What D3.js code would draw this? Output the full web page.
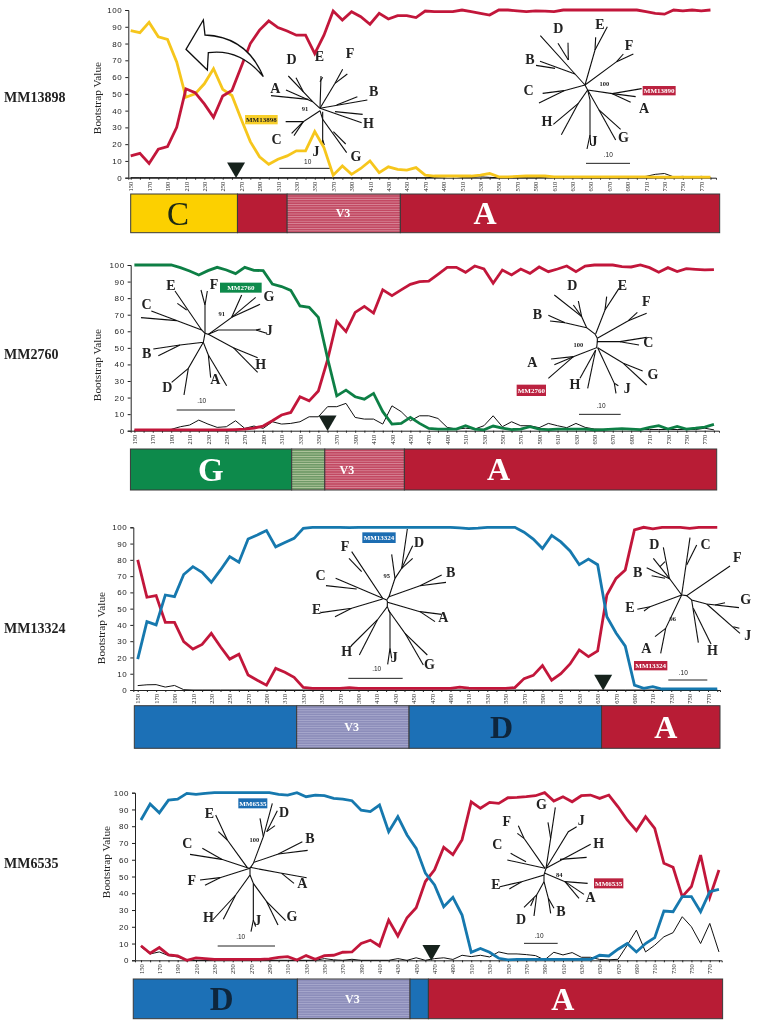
<!DOCTYPE html>
<html>
<head>
<meta charset="utf-8">
<script src="https://cdn.jsdelivr.net/npm/d3@7"></script>
<style>
    body { margin: 0; background: #fff; }
    svg { display: block; }
    .domain, .tick line { stroke: #222; }
</style>
</head>
<body>
<svg width="758" height="1022"></svg>
<script>
// Nucleotide position of every bootstrap window
var sites = d3.range(150, 790, 10);
var yTicks = d3.range(0, 110, 10);
var isolates = ['MM13898', 'MM2760', 'MM13324', 'MM6535'];

// Bootstrap values, one row per 100 positions (150, 250, 350 ...)
var mm13898Yellow = [
    87.7, 86.5, 92.6, 84, 82.5, 69, 48, 50, 56, 65,
    52.7, 49, 35, 21.5, 12.5, 8, 11, 13, 16, 16,
    27.5, 18, 1.5, 7, 2, 5.5, 10, 3, 6.5, 5,
    4.5, 6, 1.5, 1, 1, 1, 1, 1, 1.5, 2.5,
    .5, .5, .8, 1, 1, 1, .5, .5, .5, .5,
    .5, .5, .5, .5, .5, .5, .5, .3, .3, .3,
    .3, .3, .3, .3];
var mm13898Red = [
    13, 14.5, 8.5, 17, 18.5, 30, 53, 50.7, 44, 36,
    48.7, 52, 66, 80, 88, 93.5, 89.5, 87.5, 85, 85,
    74, 85, 99.4, 94, 99, 96, 91.5, 98, 94.6, 96.6,
    96.6, 95.5, 99.4, 99, 99, 99, 100, 99, 98, 97,
    100, 100, 99.5, 99, 99.5, 99.3, 99, 100, 100, 100,
    100, 100, 100, 100, 100, 100, 99, 98, 97.5, 100,
    99.5, 100, 99.5, 100];
var mm13898Black = [
    0, 0, 0, 0, 0, 0, 0, 0, 0, 0,
    0, 0, 0, 0, 0, 0, 0, 0, 0, 0,
    0, 0, 0, 0, 0, 0, 0, 0, 0, 0,
    0, 0, 0, .2, .5, 1, .3, .2, .5, .2,
    0, 0, 0, 0, 0, .3, .7, .5, .2, 0,
    0, 0, 0, 0, 0, 0, .8, 2, 2.5, .5,
    .8, .2, .8, .2];

var mm2760Green = [
    100, 100, 100, 100, 100, 98.4, 96.4, 94, 96.6, 98.6,
    97, 94.8, 98.6, 96.8, 96.6, 88.5, 87, 84.7, 75.3, 74.4,
    68.4, 43.7, 21, 24.5, 20.5, 19, 22.5, 11.5, 4, 4.4,
    8, 4.4, 1.4, 1, 1, 1, 3, 1, .5, 2.8,
    1.5, .7, 1, 2.4, 1, .7, 1, 1, 1, 1,
    .5, .7, 1, 1.2, 1, .7, 2, 3, 1, 2.6,
    1, 1.5, 2.2, 3.8];
var mm2760Red = [
    .5, .5, .5, .5, .5, .5, .5, .5, .5, .5,
    .5, .7, 1, 1.5, 2.8, 6, 9.5, 11, 20.5, 18,
    24, 42.7, 66, 59.8, 71.4, 75, 71, 85, 81.5, 85,
    88.3, 90, 90.3, 94.4, 98.6, 98.6, 95.6, 99.4, 97.6, 89,
    97, 94, 97.6, 95, 98.8, 96, 97.6, 99.4, 96, 99.4,
    100, 100, 100, 99, 98.8, 100, 98.4, 95.6, 98.4, 96,
    97.8, 97.4, 97, 97.2];
var mm2760Black = [
    .2, .2, .2, .3, .8, 2.4, 3.4, 6.4, 4, 2,
    2.4, 6, 1.4, 2.8, 1.4, 5.4, 4, 4.4, 5.4, 8.4,
    8.4, 14.5, 14.5, 16.5, 8, 7, 7, 4, 15, 11.5,
    6, 9, 9, 7.4, 2, 1, 1.5, 1, 3, 9,
    2.4, 5.4, 3, 3, 1.8, 4.4, 3, 1.8, 4.4, 2,
    1, .7, 1, .7, .7, .7, .7, .7, .7, .7,
    .7, .7, 1.5, .5];

var mm13324Blue = [
    19, 42, 40, 58.4, 57.4, 71, 75.8, 72.3, 66.2, 73.8,
    82, 78.5, 92.8, 95.3, 98, 88, 90.6, 93.2, 99.4, 100,
    100, 100, 100, 99.8, 100, 100, 100, 100, 100, 100,
    100, 100, 100, 100, 100, 99.6, 99.2, 99.5, 100, 100,
    100, 100, 97, 92.8, 87, 95, 91, 85.5, 77, 80.5,
    77, 45, 35, 27, 3, 1, 2, .6, .7, .7,
    .7, .7, .7, .7];
var mm13324Red = [
    80, 57, 58, 41.6, 41.6, 29.7, 25.2, 28, 34.8, 26.6,
    19, 22, 9.2, 6, 3, 13.3, 10.9, 7.8, 1.6, 1,
    1, 1, 1, 1.5, 1, 1, 1, 1, 1, 1,
    1, 1, 1, 1, 1, 1.8, 1.2, 1, 1, 1,
    1, 1.5, 7, 9, 15, 6, 10, 16, 24.6, 20.5,
    24, 58.4, 68.6, 73.8, 98.4, 100, 99, 100, 100, 100,
    99.4, 100, 100, 100];
var mm13324Black = [
    2.7, 3.2, 3.3, 1.8, 2.8, .2, 0, 0, 0, 0,
    0, 0, 0, 0, 0, 0, 0, 0, 0, 0,
    0, 0, 0, 0, 0, 0, 0, 0, 0, 0,
    0, 0, 0, 0, 0, 0, 0, 0, 0, 0,
    0, 0, 0, 0, 0, 0, 0, 0, 0, 0,
    0, 0, 0, 0, 0, 0, 0, 0, 0, 0,
    0, 0, 0, 0];

var mm6535Blue = [
    83.7, 93.2, 88, 95.6, 96.2, 99.6, 99, 99.6, 100, 100,
    100, 100, 100, 100, 100, 99, 98.6, 100, 97.6, 98.6,
    98.2, 96.6, 96.2, 95.2, 89.6, 88.7, 92.6, 76.7, 85.7, 74.8,
    66.8, 52, 45, 32, 37.6, 27, 4.8, 7, 4.8, 1.2,
    .2, .5, .5, .5, .5, .5, .5, .5, .5, .5,
    3, 2.6, 6.6, 10, 5, 10, 13.5, 29.4, 29, 38,
    38, 29, 41, 42.3];
var mm6535Red = [
    8.7, 4.2, 7.6, 3.2, 2.6, 0, 1.4, 1, .5, .5,
    .5, .5, .5, .5, .8, 1.8, 2.2, .2, 2.8, .6,
    2.8, 3, 4.8, 5, 10, 12, 8.5, 24, 14.5, 25.4,
    31.4, 47, 54, 67.4, 63, 72, 94.6, 90.7, 94.2, 93.6,
    97, 97.2, 97.6, 98.2, 100, 95, 97.6, 94.6, 98.2, 98.6,
    96.6, 98.6, 91.6, 83.7, 77.3, 85.7, 78.7, 57.9, 55.5, 38,
    44, 62.8, 37.6, 53.9];
var mm6535Black = [
    8, 3.8, 5, 2.8, 2, 0, 0, 0, 0, 0,
    0, 0, 0, 0, 0, 0, 0, 0, 0, 0,
    1, .3, 0, .6, 0, 0, 0, 0, 1, 0,
    1.5, 0, 1, 1.5, .5, 3, 2.2, 3, 2, 5,
    3.8, 3.8, 3.4, 2.8, .2, 4.8, 3.2, 4.6, 1.8, 1.8,
    .5, .3, .6, 9, 18, 5, 9, 14, 16.5, 26,
    20, 10, 22, 5];

var colors = {
    red: '#c2183a', yellow: '#f6c61e', green: '#0e7f45', blue: '#1478ae', black: '#111',
    barRed: '#b81f35', barYellow: '#fcd000', barGreen: '#0d8a4b', barBlue: '#1f70b6'
};

// Breakpoint along the genome for each isolate
var breakSites = [264.5, 360, 656, 466.6];

// Subtype blocks under each plot: edges in positions, then one fill and one letter per block
var blockEdges = [
    [150, 266, 320, 443, 790],
    [145.7, 321, 357, 443.5, 783],
    [146.3, 322.8, 445, 654.3, 783],
    [141.6, 320.5, 443.3, 463.3, 784]
];
var blockFills = [
    ['barYellow', 'barRed', 'hatchRed', 'barRed'],
    ['barGreen', 'hatchGreen', 'hatchRed', 'barRed'],
    ['barBlue', 'hatchBlue', 'barBlue', 'barRed'],
    ['barBlue', 'hatchBlue', 'barBlue', 'barRed']
];
var blockLetters = [
    [['C', 201.4, '#1c2a12', 33, 'normal'], ['V3', 380.7, '#fff', 12, 'bold'], ['A', 535, '#fff', 32, 'bold']],
    [['G', 233, '#fff', 33, 'bold'], ['V3', 381, '#fff', 12, 'bold'], ['A', 546, '#fff', 32, 'bold']],
    [['V3', 382.6, '#fff', 12, 'bold'], ['D', 545.6, '#10263c', 32, 'bold'], ['A', 724, '#fff', 32, 'bold']],
    [['D', 238, '#10263c', 33, 'bold'], ['V3', 380.4, '#fff', 12, 'bold'], ['A', 609.9, '#fff', 32, 'bold']]
];

// Page frame of every panel: domains are positions and bootstrap values
var panelFrames = [
    {xd: [147.4, 786], xr: [128.3, 716], yr: [177.7, 10], bar: [194, 232.7], name: 102, titleX: 101, titleY: 98},
    {xd: [146, 785.5], xr: [130.7, 719], yr: [430.7, 265], bar: [449, 490], name: 359, titleX: 101, titleY: 365},
    {xd: [145.2, 783], xr: [133.3, 720], yr: [690, 527.3], bar: [705.7, 748.3], name: 633, titleX: 105, titleY: 628},
    {xd: [143.5, 783], xr: [135, 721.7], yr: [960.3, 792.7], bar: [979, 1018.7], name: 868, titleX: 110, titleY: 862}
];

var panelSeries = [
    [[mm13898Black, 'black'], [mm13898Yellow, 'yellow'], [mm13898Red, 'red']],
    [[mm2760Black, 'black'], [mm2760Red, 'red'], [mm2760Green, 'green']],
    [[mm13324Black, 'black'], [mm13324Red, 'red'], [mm13324Blue, 'blue']],
    [[mm6535Black, 'black'], [mm6535Red, 'red'], [mm6535Blue, 'blue']]
];

// Unrooted trees, traced in units of a third of a pixel from the given origin.
// branches are polylines, letters are [text, x, y], bar is the .10 scale
var trees = [
    {panel: 0, origin: [90, 0],
     branches: [[[690,325],[693,228]], [[690,245],[698,232]], [[690,325],[735,250],[758,208]], [[735,250],[772,222]],
        [[690,325],[668,305],[595,228]], [[640,275],[618,233]], [[668,305],[588,270]], [[655,298],[543,287]],
        [[690,325],[832,300]], [[740,315],[802,290]], [[690,325],[815,368]], [[735,335],[818,343]],
        [[690,332],[640,365],[587,365]], [[640,365],[605,400]], [[640,365],[612,407]],
        [[690,332],[698,358],[770,458]], [[730,395],[767,432]], [[698,335],[698,430]], [[698,420],[703,435]]],
     letters: [['D',605,178],['E',688,168],['F',780,160],['A',556,263],['B',851,272],['H',835,368],['C',560,418],['J',678,452],['G',798,467]],
     support: ['91',645,325], bar: [568,720,505], barText: ['10',653,486], tag: ['MM13898',465,345,563,373,'#f8cf2a','#222']},
    {panel: 0, origin: [420, 0],
     branches: [[[495,255],[465,222],[361,107]], [[445,180],[414,130]], [[445,180],[444,128]], [[465,222],[360,184]], [[405,205],[348,196]],
        [[495,255],[525,150],[562,80]], [[525,150],[527,112]], [[495,255],[590,185],[640,162]], [[590,185],[610,162]],
        [[495,255],[432,272],[368,280]], [[432,272],[357,309]], [[495,255],[503,270],[577,281],[665,266]], [[577,281],[647,290]], [[577,281],[632,307]],
        [[503,270],[475,310],[400,373]], [[475,310],[424,404]], [[503,270],[510,300],[510,405],[501,447]], [[510,405],[512,435]],
        [[503,270],[537,330],[602,388]], [[537,330],[587,420]]],
     letters: [['D',415,85],['E',540,73],['F',627,134],['B',330,177],['C',326,270],['A',672,325],['H',381,362],['J',522,422],['G',610,411]],
     support: ['100',553,250], bar: [498,630,490], barText: ['.10',565,465], tag: ['MM13890',668,258,767,286,'#bb2340','#fff']},
    {panel: 1, origin: [90, 255],
     branches: [[[345,235],[335,225],[255,108]], [[290,165],[262,145]], [[335,225],[184,168]], [[260,197],[153,188]],
        [[345,235],[345,150],[333,105]], [[345,150],[352,108]], [[345,235],[355,238],[425,187],[455,120]], [[425,187],[497,127]], [[425,187],[510,148]],
        [[355,238],[385,225],[498,225],[530,235]], [[498,225],[512,222]], [[355,238],[430,278],[503,308]], [[430,278],[503,352]],
        [[345,235],[340,262],[270,270],[190,282]], [[270,270],[205,302]], [[340,262],[355,300],[362,368]], [[355,300],[410,392]],
        [[340,262],[295,340],[245,382]], [[295,340],[282,420]]],
     letters: [['E',243,90],['F',372,88],['C',170,146],['G',537,122],['J',538,224],['B',170,295],['H',512,327],['A',376,372],['D',232,396]],
     support: ['91',395,177], bar: [260,435,465], barText: ['.10',335,437], tag: ['MM2760',390,83,515,113,'#0e8a4b','#fff']},
    {panel: 1, origin: [420, 255],
     branches: [[[532,250],[525,237],[500,218],[485,185],[403,120]], [[485,185],[460,150]], [[485,185],[475,138]], [[500,218],[435,203],[385,181]], [[435,203],[390,198]],
        [[527,237],[555,165],[597,100]], [[555,165],[560,125]], [[532,250],[625,197],[680,175]], [[625,197],[652,172]],
        [[532,250],[532,260],[600,260],[680,247]], [[600,260],[657,270]], [[532,260],[530,278],[460,305],[385,370]], [[460,305],[393,312]], [[460,305],[403,329]],
        [[527,285],[480,370]], [[527,285],[503,400]], [[533,278],[583,385],[588,415]], [[583,385],[595,392]],
        [[533,278],[610,325],[668,348]], [[610,325],[680,390]]],
     letters: [['D',457,90],['E',607,90],['F',679,138],['B',352,178],['C',685,260],['A',337,320],['G',699,356],['H',465,388],['J',622,400]],
     support: ['100',475,268], bar: [477,602,478], barText: ['.10',543,452], tag: ['MM2760',290,389,378,423,'#bb2340','#fff']},
    {panel: 2, origin: [90, 515],
     branches: [[[890,255],[878,250],[785,110]], [[815,170],[777,130]], [[878,250],[737,190]], [[800,222],[708,212]],
        [[878,252],[785,280],[692,293]], [[785,280],[735,305]], [[890,255],[897,245],[915,190],[935,160],[952,42]], [[935,160],[968,92]], [[935,160],[968,130]], [[915,190],[905,118]],
        [[897,245],[990,212],[1068,202]], [[990,212],[1055,180]], [[890,255],[893,262],[990,290],[1055,298]], [[990,290],[1035,320]],
        [[892,262],[892,275],[862,315],[783,393]], [[862,315],[808,420]], [[892,275],[900,295],[900,400],[893,448]], [[900,400],[905,430]],
        [[895,285],[945,355],[1012,420]], [[945,355],[1000,450]]],
     letters: [['F',765,92],['D',987,80],['C',692,180],['B',1082,170],['E',680,282],['A',1060,305],['H',770,407],['J',913,425],['G',1018,448]],
     support: ['95',890,182], bar: [775,938,490], barText: ['.10',860,462], tag: ['MM13324',817,52,917,84,'#1f6db2','#fff']},
    {panel: 2, origin: [420, 515],
     branches: [[[785,240],[748,190],[730,97]], [[748,190],[700,130]], [[720,155],[735,140]], [[750,192],[680,158]], [[735,190],[695,182]],
        [[785,240],[810,68]], [[800,150],[830,90]], [[785,240],[800,242],[930,153]], [[800,242],[815,255],[860,267],[957,278]], [[860,267],[960,355]], [[885,270],[915,263]], [[940,335],[958,340]],
        [[815,255],[835,383]], [[820,280],[873,387]], [[785,240],[690,275],[652,283]], [[690,275],[672,288]],
        [[785,240],[737,340],[722,415]], [[737,340],[705,365]]],
     letters: [['D',703,88],['C',857,88],['F',952,125],['B',653,172],['E',630,275],['G',977,252],['J',983,360],['A',679,400],['H',877,405]],
     support: ['96',758,312], bar: [745,862,495], barText: ['.10',790,473], tag: ['MM13324',642,438,742,466,'#bb2340','#fff']},
    {panel: 3, origin: [90, 780],
     branches: [[[480,265],[472,263],[412,180],[377,105]], [[412,180],[385,155]], [[472,263],[395,238],[300,223]], [[395,238],[337,205]],
        [[480,265],[390,293],[330,300]], [[390,293],[345,316]], [[480,265],[490,250],[520,170],[547,70]], [[520,170],[510,115]], [[530,155],[562,92]], [[530,155],[555,137]],
        [[492,247],[565,222],[637,185]], [[565,222],[653,211]], [[480,262],[575,280],[650,293]], [[575,280],[612,310]],
        [[480,265],[480,285],[437,345],[368,420]], [[437,345],[400,418]], [[480,285],[490,310],[490,420],[483,455]], [[490,420],[497,440]],
        [[490,310],[530,365],[587,422]], [[530,365],[564,435]]],
     letters: [['E',358,98],['D',582,95],['C',292,190],['B',660,175],['F',305,300],['A',637,310],['H',355,412],['J',503,420],['G',606,408]],
     support: ['100',493,178], bar: [383,555,498], barText: ['.10',452,470], tag: ['MM6535',445,55,532,85,'#1f6db2','#fff']},
    {panel: 3, origin: [420, 780],
     branches: [[[375,275],[378,265],[392,175],[406,82]], [[392,175],[384,127]], [[378,265],[445,155],[470,140]], [[378,265],[512,193]], [[420,238],[500,232]],
        [[375,265],[312,175],[295,137]], [[312,175],[292,160]], [[375,265],[262,240]], [[318,245],[272,220]],
        [[375,275],[372,285],[305,305],[240,320]], [[305,305],[268,327]], [[375,280],[435,305],[503,310]], [[435,305],[492,343]], [[435,305],[477,355]],
        [[372,285],[372,305],[385,355],[402,385]], [[385,355],[392,400]], [[372,305],[350,345],[312,382]], [[350,345],[342,408]], [[342,355],[332,378]]],
     letters: [['G',364,72],['F',260,122],['J',484,120],['C',232,192],['H',536,190],['E',228,312],['A',512,350],['B',423,393],['D',303,417]],
     support: ['84',418,285], bar: [312,413,490], barText: ['.10',357,467], tag: ['MM6535',522,295,610,325,'#bb2340','#fff']}
];

var serif = '"Liberation Serif", serif';
var sans = '"Liberation Sans", sans-serif';

var svg = d3.select('svg');
var defs = svg.append('defs');

// Soft edges, the original is a scanned print
defs.append('filter').attr('id', 'scan')
    .attr('x', 0).attr('y', 0).attr('width', 758).attr('height', 1022)
    .attr('filterUnits', 'userSpaceOnUse')
    .append('feGaussianBlur').attr('stdDeviation', .3);

// Striped fills for the overlap and V3 blocks
function addHatch(id, base, stripe) {
    var p = defs.append('pattern').attr('id', id)
        .attr('patternUnits', 'userSpaceOnUse')
        .attr('width', 6).attr('height', 2.4);
    p.append('rect').attr('width', 6).attr('height', 2.4).attr('fill', base);
    p.append('rect').attr('width', 6).attr('height', .8).attr('fill', stripe);
}
addHatch('hatchRed', '#c24a63', '#d9899a');
addHatch('hatchBlue', '#8c8dba', '#a9aacd');
addHatch('hatchGreen', '#6f9a67', '#b5c9a0');

var root = svg.append('g').attr('filter', 'url(#scan)');

function drawTree(t, px) {
    var tx = d3.scaleLinear().domain([0, 3]).range([t.origin[0], t.origin[0] + 1]);
    var ty = d3.scaleLinear().domain([0, 3]).range([t.origin[1], t.origin[1] + 1]);
    var line = d3.line().x(function(d) { return tx(d[0]); }).y(function(d) { return ty(d[1]); });
    var g = px.append('g');

    g.selectAll('path').data(t.branches).enter().append('path')
        .attr('d', line)
        .attr('fill', 'none')
        .attr('stroke', '#111')
        .attr('stroke-width', 1.1);

    g.append('line')
        .attr('x1', tx(t.bar[0])).attr('x2', tx(t.bar[1]))
        .attr('y1', ty(t.bar[2])).attr('y2', ty(t.bar[2]))
        .attr('stroke', '#222').attr('stroke-width', 1);

    g.append('text')
        .attr('x', tx(t.barText[1])).attr('y', ty(t.barText[2]))
        .attr('dy', '.35em').attr('text-anchor', 'middle')
        .attr('font-family', sans).attr('font-size', 6.5).attr('fill', '#222')
        .text(t.barText[0]);

    g.append('text')
        .attr('x', tx(t.support[1])).attr('y', ty(t.support[2]))
        .attr('dy', '.35em').attr('text-anchor', 'middle')
        .attr('font-family', serif).attr('font-weight', 'bold').attr('font-size', 6.5).attr('fill', '#222')
        .text(t.support[0]);

    g.selectAll('text.leaf').data(t.letters).enter().append('text')
        .attr('class', 'leaf')
        .attr('x', function(d) { return tx(d[1]); })
        .attr('y', function(d) { return ty(d[2]); })
        .attr('dy', '.35em').attr('text-anchor', 'middle')
        .attr('font-family', serif).attr('font-weight', 'bold').attr('font-size', 14).attr('fill', '#222')
        .text(function(d) { return d[0]; });
}

function drawTag(t, px) {
    var tx = d3.scaleLinear().domain([0, 3]).range([t.origin[0], t.origin[0] + 1]);
    var ty = d3.scaleLinear().domain([0, 3]).range([t.origin[1], t.origin[1] + 1]);
    var tag = t.tag;
    px.append('rect')
        .attr('x', tx(tag[1])).attr('y', ty(tag[2]))
        .attr('width', tx(tag[3]) - tx(tag[1])).attr('height', ty(tag[4]) - ty(tag[2]))
        .attr('fill', tag[5]);
    px.append('text')
        .attr('x', (tx(tag[1]) + tx(tag[3])) / 2).attr('y', (ty(tag[2]) + ty(tag[4])) / 2)
        .attr('dy', '.35em').attr('text-anchor', 'middle')
        .attr('font-family', serif).attr('font-weight', 'bold').attr('font-size', 7).attr('fill', tag[6])
        .text(tag[0]);
}

panelFrames.forEach(function(frame, i) {
    var px = root.append('g');
    var x = d3.scaleLinear().domain(frame.xd).range(frame.xr);
    var y = d3.scaleLinear().domain([0, 100]).range(frame.yr);

    // Subtype blocks
    var edges = blockEdges[i];
    px.selectAll('rect.block').data(blockFills[i]).enter().append('rect')
        .attr('class', 'block')
        .attr('x', function(d, k) { return x(edges[k]); })
        .attr('y', frame.bar[0])
        .attr('width', function(d, k) { return x(edges[k + 1]) - x(edges[k]); })
        .attr('height', frame.bar[1] - frame.bar[0])
        .attr('fill', function(d) { return colors[d] || 'url(#' + d + ')'; })
        .attr('stroke', '#3a3a3a')
        .attr('stroke-width', 1);

    px.selectAll('text.blockLetter').data(blockLetters[i]).enter().append('text')
        .attr('class', 'blockLetter')
        .attr('x', function(d) { return x(d[1]); })
        .attr('y', (frame.bar[0] + frame.bar[1]) / 2)
        .attr('dy', '.34em')
        .attr('text-anchor', 'middle')
        .attr('font-family', serif)
        .attr('fill', function(d) { return d[2]; })
        .attr('font-size', function(d) { return d[3]; })
        .attr('font-weight', function(d) { return d[4]; })
        .text(function(d) { return d[0]; });

    trees.filter(function(t) { return t.panel === i; }).forEach(function(t) { drawTree(t, px); });

    // Axes
    var xAxis = d3.axisBottom(x)
        .tickValues(sites)
        .tickSize(2)
        .tickPadding(3)
        .tickFormat(function(d) { return (d - 150) % 20 === 0 ? d : ''; });
    var xg = px.append('g')
        .attr('transform', 'translate(0,' + frame.yr[0] + ')')
        .call(xAxis);
    xg.selectAll('text')
        .attr('transform', 'rotate(-90)')
        .attr('text-anchor', 'end')
        .attr('x', -4).attr('y', 0).attr('dy', '.32em')
        .attr('font-family', serif).attr('font-size', 6.5).attr('fill', '#222');

    var yAxis = d3.axisLeft(y)
        .tickValues(yTicks)
        .tickSize(3)
        .tickPadding(3);
    var yg = px.append('g')
        .attr('transform', 'translate(' + frame.xr[0] + ',0)')
        .call(yAxis);
    yg.selectAll('text')
        .attr('font-family', sans).attr('font-size', 8).attr('letter-spacing', .6).attr('fill', '#222');

    // Bootstrap curves
    var line = d3.line()
        .x(function(d, k) { return x(sites[k]); })
        .y(function(d) { return y(d); });
    px.selectAll('path.curve').data(panelSeries[i]).enter().append('path')
        .attr('class', 'curve')
        .attr('d', function(d) { return line(d[0]); })
        .attr('fill', 'none')
        .attr('stroke', function(d) { return colors[d[1]]; })
        .attr('stroke-width', function(d) { return d[1] === 'black' ? 1 : 2.8; })
        .attr('stroke-linejoin', 'miter');

    trees.filter(function(t) { return t.panel === i; }).forEach(function(t) { drawTag(t, px); });

    // Breakpoint marker
    px.append('path')
        .attr('d', d3.symbol().type(d3.symbolTriangle).size(140))
        .attr('transform', 'translate(' + x(breakSites[i]) + ',' + (frame.yr[0] - 10) + ') rotate(180)')
        .attr('fill', '#16241f');

    px.append('text')
        .attr('transform', 'translate(' + frame.titleX + ',' + frame.titleY + ') rotate(-90)')
        .attr('text-anchor', 'middle')
        .attr('font-family', serif).attr('font-size', 11.3).attr('fill', '#222')
        .text('Bootstrap Value');

    px.append('text')
        .attr('x', 4).attr('y', frame.name)
        .attr('font-family', serif).attr('font-weight', 'bold').attr('font-size', 14).attr('fill', '#222')
        .text(isolates[i]);
});

// Curved hollow arrow pointing at the C stretch of MM13898
var ax = d3.scaleLinear().domain([0, 3]).range([90, 91]);
var ay = d3.scaleLinear().domain([0, 3]).range([0, 1]);
var arrow = d3.path();
arrow.moveTo(ax(288), ay(148));
arrow.lineTo(ax(340), ay(60));
arrow.lineTo(ax(345), ay(105));
arrow.quadraticCurveTo(ax(470), ay(110), ax(520), ay(230));
arrow.quadraticCurveTo(ax(450), ay(145), ax(355), ay(158));
arrow.lineTo(ax(352), ay(210));
arrow.closePath();
root.append('path')
    .attr('d', arrow.toString())
    .attr('fill', '#fff')
    .attr('stroke', '#111')
    .attr('stroke-width', 1.3);
</script>
</body>
</html>
